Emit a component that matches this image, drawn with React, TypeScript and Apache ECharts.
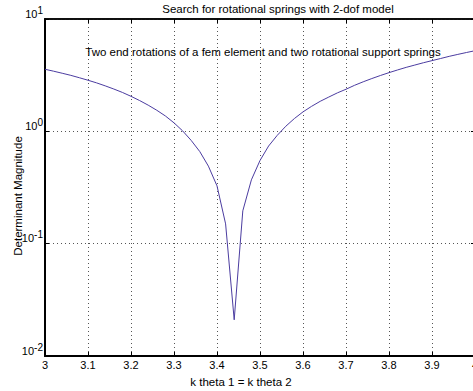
import React, { useEffect, useRef } from "react";
import * as echarts from "echarts";

const kTheta = [
  3.0, 3.02, 3.04, 3.06, 3.08, 3.1, 3.12, 3.14, 3.16, 3.18,
  3.2, 3.22, 3.24, 3.26, 3.28, 3.3, 3.32, 3.34, 3.36, 3.38,
  3.4, 3.42, 3.44, 3.46, 3.48, 3.5, 3.52, 3.54, 3.56, 3.58,
  3.6, 3.62, 3.64, 3.66, 3.68, 3.7, 3.72, 3.74, 3.76, 3.78,
  3.8, 3.82, 3.84, 3.86, 3.88, 3.9, 3.92, 3.94, 3.96, 3.98, 4.0,
];
const detMagnitude = [
  3.57, 3.43, 3.29, 3.15, 3.0, 2.85, 2.7, 2.54, 2.38, 2.22,
  2.05, 1.88, 1.71, 1.54, 1.37, 1.19, 1.01, 0.83, 0.66, 0.49,
  0.327, 0.15, 0.021, 0.196, 0.37, 0.55, 0.74, 0.92, 1.11, 1.3,
  1.49, 1.67, 1.85, 2.02, 2.2, 2.37, 2.57, 2.76, 2.95, 3.14,
  3.33, 3.52, 3.71, 3.89, 4.08, 4.26, 4.45, 4.65, 4.84, 5.03, 5.22,
];
const xTicks = [3, 3.1, 3.2, 3.3, 3.4, 3.5, 3.6, 3.7, 3.8, 3.9, 4];
const yDecades = [0.01, 0.1, 1, 10];

const titleText = "Search for rotational springs with 2-dof model";
const noteText = "Two end rotations of a fem element and two rotational support springs";
const xName = "k theta 1 = k theta 2";
const yName = "Determinant Magnitude";

const FONT = "'Liberation Sans', Arial, Helvetica, sans-serif";

export default function App() {
  const ref = useRef<HTMLDivElement>(null);
  useEffect(() => {
    if (!ref.current) return;
    const chart = echarts.init(ref.current, null, { renderer: "svg" });
    const gridLine = { show: true, lineStyle: { color: "#555", width: 1, type: [1, 3] as any } };
    chart.setOption({
      animation: false,
      backgroundColor: "#fff",
      textStyle: { fontFamily: FONT },
      grid: {
        left: 45, top: 19, width: 430, height: 337,
        outerBoundsMode: "none", containLabel: false,
        show: true, borderColor: "#000", borderWidth: 1.5, backgroundColor: "transparent",
      },
      xAxis: [
        {
          type: "value",
          min: xTicks[0],
          max: xTicks[xTicks.length - 1],
          interval: 0.1,
          axisLine: { show: true, lineStyle: { color: "#000", width: 2 } },
          axisTick: { show: true, inside: true, length: 4, lineStyle: { color: "#000" } },
          axisLabel: {
            margin: 3,
            fontSize: 11,
            fontFamily: FONT,
            color: "#000",
            hideOverlap: false,
            showMaxLabel: true,
            formatter: (v: number) => String(+v.toFixed(1)),
          },
          splitLine: gridLine,
        },
        {
          type: "value",
          position: "top",
          min: xTicks[0],
          max: xTicks[xTicks.length - 1],
          interval: 0.1,
          axisLine: { show: true, lineStyle: { color: "#000", width: 1.5 } },
          axisTick: { show: true, inside: true, length: 4, lineStyle: { color: "#000" } },
          axisLabel: { show: false },
          splitLine: { show: false },
        },
      ],
      yAxis: [
        {
          type: "log",
          logBase: 10,
          min: yDecades[0],
          max: yDecades[yDecades.length - 1],
          axisLine: { show: true, lineStyle: { color: "#000", width: 2 } },
          axisTick: { show: true, inside: true, length: 4, lineStyle: { color: "#000" } },
          minorTick: { show: false },
          axisLabel: {
            margin: 2,
            color: "#000",
            verticalAlign: "bottom",
            formatter: (v: number) => `{b|10}{s|${Math.round(Math.log10(v))}}`,
            rich: {
              b: { fontSize: 11, fontFamily: FONT, color: "#000", lineHeight: 12, verticalAlign: "bottom" },
              s: { fontSize: 10, fontFamily: FONT, color: "#000", lineHeight: 12, padding: [0, 0, 4, 0], verticalAlign: "bottom" },
            },
          },
          splitLine: gridLine,
        },
        {
          type: "log",
          logBase: 10,
          position: "right",
          min: yDecades[0],
          max: yDecades[yDecades.length - 1],
          axisLine: { show: true, lineStyle: { color: "#000", width: 1.5 } },
          axisTick: { show: true, inside: true, length: 4, lineStyle: { color: "#000" } },
          axisLabel: { show: false },
          splitLine: { show: false },
        },
      ],
      graphic: [
        { type: "text", x: 278, y: 9, style: { text: titleText, font: `11.5px ${FONT}`, fill: "#000", align: "center", verticalAlign: "middle" } },
        { type: "text", x: 263, y: 52, z: 100, style: { text: noteText, font: `11.5px ${FONT}`, fill: "#000", align: "center", verticalAlign: "middle" } },
        { type: "text", x: 241, y: 382, style: { text: xName, font: `11.5px ${FONT}`, fill: "#000", align: "center", verticalAlign: "middle" } },
        { type: "text", x: 18, y: 196, rotation: Math.PI / 2, style: { text: yName, font: `11.5px ${FONT}`, fill: "#000", align: "center", verticalAlign: "middle" } },
      ],
      series: [
        {
          type: "line",
          data: kTheta.map((k, i) => [k, detMagnitude[i]]),
          showSymbol: false,
          lineStyle: { color: "#4b3ca0", width: 1 },
          itemStyle: { color: "#4b3ca0" },
          smooth: false,
        },
      ],
    });
    return () => chart.dispose();
  }, []);
  return <div ref={ref} style={{ position: "fixed", left: 0, top: 0, width: 473, height: 391 }} />;
}
